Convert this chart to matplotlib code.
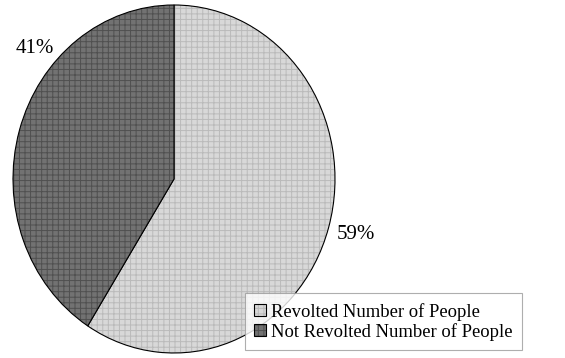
import matplotlib.pyplot as plt

plt.rcParams['font.family'] = ['Liberation Serif', 'DejaVu Serif']
plt.rcParams['hatch.linewidth'] = 0.7

labels = ['Revolted Number of People', 'Not Revolted Number of People']
shares = [59, 41]
colors = ['#d8d8d8', '#727272']
hatch_colors = ['#bababa', '#505050']

if __name__ == '__main__':
    fig = plt.figure(figsize=(5.65, 3.58), dpi=100)
    ax = fig.add_axes([13 / 565, 5 / 358, 322 / 565, 348 / 358])

    wedges, _ = ax.pie(shares, colors=colors, startangle=90, counterclock=False,
                       wedgeprops={'edgecolor': 'black', 'linewidth': 0.8})
    for w, hc in zip(wedges, hatch_colors):
        w.set_hatch('+++')
        w._hatch_color = plt.matplotlib.colors.to_rgba(hc)

    ax.set_aspect('auto')
    ax.set_xlim(-1, 1)
    ax.set_ylim(-1, 1)
    ax.axis('off')

    # percentage labels outside the pie
    ax.text(1.13, -0.32, f'{shares[0]}%', fontsize=15, ha='center', va='center')
    ax.text(-0.865, 0.75, f'{shares[1]}%', fontsize=15, ha='center', va='center')

    leg = fig.legend(wedges, labels, loc='lower right',
                     bbox_to_anchor=(522 / 565, 8 / 358), fontsize=13.4,
                     frameon=True, fancybox=False, handlelength=0.6,
                     handleheight=0.6, handletextpad=0.3, borderpad=0.5,
                     labelspacing=0.12, borderaxespad=0)
    leg.get_frame().set_edgecolor('#9a9a9a')
    leg.get_frame().set_linewidth(0.8)

    fig.savefig('out.png', dpi=100)
